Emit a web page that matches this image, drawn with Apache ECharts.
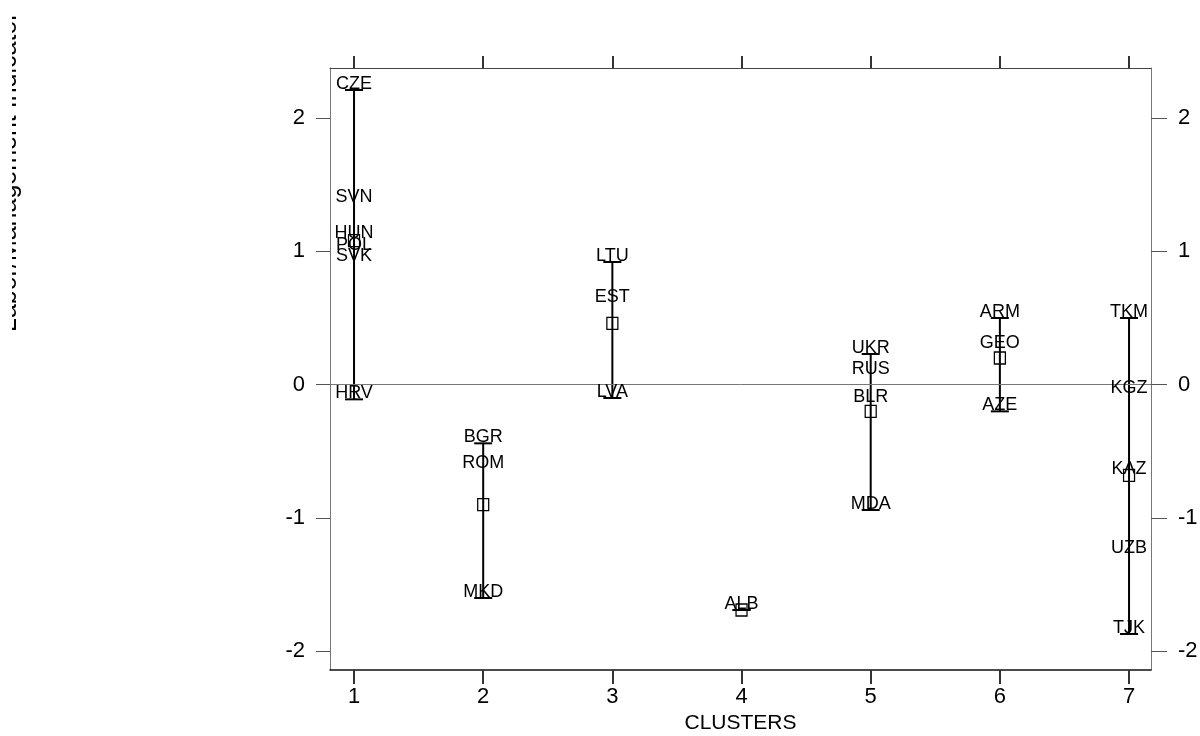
<!DOCTYPE html>
<html>
<head>
<meta charset="utf-8">
<script src="https://cdn.jsdelivr.net/npm/echarts@6/dist/echarts.min.js"></script>
<style>
  html, body { margin: 0; padding: 0; background: #fff; }
  #main { width: 1200px; height: 736px; }
</style>
</head>
<body>
<div id="main"></div>
<script>
// clusters of transition countries, labor/management indicator
const clusters = [1, 2, 3, 4, 5, 6, 7]
const countries = ['CZE', 'SVN', 'HUN', 'POL', 'SVK', 'HRV',
  'BGR', 'ROM', 'MKD',
  'LTU', 'EST', 'LVA',
  'ALB',
  'UKR', 'RUS', 'BLR', 'MDA',
  'ARM', 'GEO', 'AZE',
  'TKM', 'KGZ', 'KAZ', 'UZB', 'TJK']
const countryCluster = [1, 1, 1, 1, 1, 1, 2, 2, 2, 3, 3, 3, 4, 5, 5, 5, 5, 6, 6, 6, 7, 7, 7, 7, 7]
const indicator = [2.21, 1.36, 1.09, 1.0, 0.92, -0.11,
  -0.44, -0.63, -1.6,
  0.92, 0.61, -0.1,
  -1.69,
  0.23, 0.07, -0.14, -0.94,
  0.5, 0.27, -0.2,
  0.5, -0.07, -0.68, -1.27, -1.87]
const clusterMeans = [1.08, -0.9, 0.46, -1.69, -0.2, 0.2, -0.68]
const yTicks = [-2, -1, 0, 1, 2]

const FONT = 'Liberation Sans, Arial, sans-serif'

// min / max per cluster for the range bars
const rangeData = clusters.map(c => {
  const vals = indicator.filter((v, i) => countryCluster[i] === c)
  return [c, Math.min(...vals), Math.max(...vals)]
})
const labelData = countries.map((name, i) => ({ name: name, value: [countryCluster[i], indicator[i]] }))
const meanData = clusters.map((c, i) => [c, clusterMeans[i]])

const chart = echarts.init(document.getElementById('main'), null, { renderer: 'canvas' })

const xRange = { min: 0.814, max: 7.17 }
const yRange = { min: -2.14, max: 2.375 }

const option = {
  backgroundColor: '#fff',
  animation: false,
  grid: { left: 330, right: 49, top: 68, bottom: 66, show: false, containLabel: false, outerBoundsMode: 'none' },
  xAxis: [
    {
      type: 'value', position: 'bottom', min: xRange.min, max: xRange.max,
      axisLine: { show: true, onZero: false, lineStyle: { color: '#111', width: 1.5 } },
      axisTick: { show: true, inside: false, length: 14, customValues: clusters, lineStyle: { color: '#333', width: 2 } },
      axisLabel: { customValues: clusters, fontSize: 22, color: '#000', fontFamily: FONT, margin: 16 },
      splitLine: { show: false },
      name: 'CLUSTERS', nameLocation: 'middle', nameGap: 41,
      nameTextStyle: { fontSize: 21, color: '#000', fontFamily: FONT }
    },
    {
      type: 'value', position: 'top', min: xRange.min, max: xRange.max,
      axisLine: { show: true, onZero: false, lineStyle: { color: '#444', width: 1 } },
      axisTick: { show: true, inside: false, length: 12, customValues: clusters, lineStyle: { color: '#333', width: 2 } },
      axisLabel: { show: false },
      splitLine: { show: false }
    }
  ],
  yAxis: [
    {
      type: 'value', position: 'left', min: yRange.min, max: yRange.max,
      axisLine: { show: true, onZero: false, lineStyle: { color: '#777', width: 1 } },
      axisTick: { show: true, inside: false, length: 14, customValues: yTicks, lineStyle: { color: '#555', width: 1 } },
      axisLabel: { customValues: yTicks, fontSize: 22, color: '#000', fontFamily: FONT, margin: 25 },
      splitLine: { show: false }
    },
    {
      type: 'value', position: 'right', min: yRange.min, max: yRange.max,
      axisLine: { show: true, onZero: false, lineStyle: { color: '#777', width: 1 } },
      axisTick: { show: true, inside: false, length: 16, customValues: yTicks, lineStyle: { color: '#555', width: 1 } },
      axisLabel: { customValues: yTicks, fontSize: 22, color: '#000', fontFamily: FONT, margin: 27 },
      splitLine: { show: false }
    }
  ],
  graphic: [
    {
      type: 'text', x: 22, y: 332, rotation: Math.PI / 2, z: 10,
      style: { text: 'Labor/Management Indicator', fontSize: 25, fontFamily: FONT, fill: '#000', align: 'left', verticalAlign: 'bottom' }
    },
    // the reference label is cut off at its top
    { type: 'rect', x: 0, y: 0, z: 20, shape: { width: 12, height: 360 }, style: { fill: '#fff' } }
  ],
  series: [
    {
      // zero line
      type: 'scatter', data: [], silent: true,
      markLine: {
        silent: true, symbol: 'none', animation: false,
        label: { show: false },
        lineStyle: { color: '#777', width: 1, type: 'solid' },
        data: [{ yAxis: 0 }]
      }
    },
    {
      type: 'custom', silent: true, z: 3,
      data: rangeData,
      renderItem: function(params, api) {
        const top = api.coord([api.value(0), api.value(2)])
        const bot = api.coord([api.value(0), api.value(1)])
        const cap = 9
        const style = { stroke: '#000', lineWidth: 2 }
        return {
          type: 'group',
          children: [
            { type: 'line', shape: { x1: top[0], y1: top[1], x2: bot[0], y2: bot[1] }, style: style },
            { type: 'line', shape: { x1: top[0] - cap, y1: top[1], x2: top[0] + cap, y2: top[1] }, style: style },
            { type: 'line', shape: { x1: bot[0] - cap, y1: bot[1], x2: bot[0] + cap, y2: bot[1] }, style: style }
          ]
        }
      }
    },
    {
      type: 'scatter', z: 4, silent: true,
      data: meanData,
      symbol: 'rect', symbolSize: [11, 12],
      itemStyle: { color: 'rgba(255,255,255,0)', borderColor: '#000', borderWidth: 1.3, opacity: 1 }
    },
    {
      type: 'scatter', z: 5, silent: true,
      data: labelData,
      symbolSize: 0,
      itemStyle: { opacity: 1, color: '#000' },
      label: {
        show: true, position: 'inside', offset: [0, -6], opacity: 1,
        formatter: p => p.name,
        fontSize: 18, fontFamily: FONT, color: '#000', textBorderWidth: 0
      }
    }
  ]
}
chart.setOption(option)
</script>
</body>
</html>
